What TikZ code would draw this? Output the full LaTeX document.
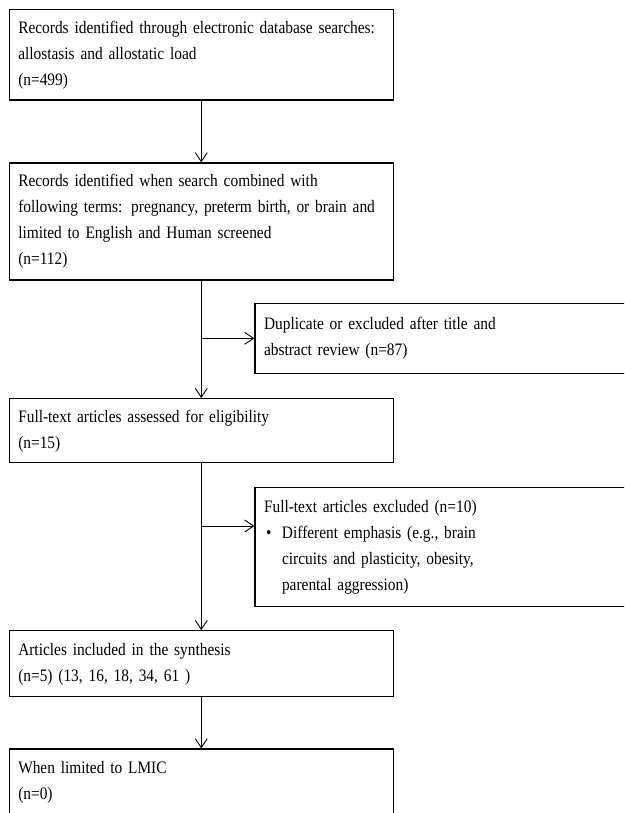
\documentclass[tikz,border=0pt]{standalone}
\usepackage{fontspec}
\setmainfont{Liberation Serif}[FakeStretch=0.88]
\usetikzlibrary{arrows.meta}

\begin{document}
\begin{tikzpicture}[
                x=1pt, y=-1pt,
                box/.style={draw=black, line width=1.2pt, text width=366pt, inner xsep=9pt,
                    inner ysep=0pt, align=left, font=\fontsize{17.5}{26}\selectfont},
                arr/.style={line width=0.9pt, -{Straight Barb[length=9pt, width=12pt]}} ]

            \clip (0,0) rectangle (624,813);

            \node[box, minimum height=90.5pt] (rec) at (201.25,54.75)
                {\mbox{Records identified through electronic database searches:}\\
                 allostasis and allostatic load\\ (n=499)};
            \node[box, minimum height=117pt] (comb) at (201.25,221.5)
                {Records identified when search combined with\\
                 \mbox{following terms: pregnancy, preterm birth, or brain and}\\
                 limited to English and Human screened\\ (n=112)};
            \node[box, minimum height=64pt] (full) at (201.25,430.7)
                {Full-text articles assessed for eligibility\\ (n=15)};
            \node[box, minimum height=66pt] (incl) at (201.25,663.8)
                {Articles included in the synthesis\\ (n=5) (13, 16, 18, 34, 61 )};
            \node[box, minimum height=66pt] (lmic) at (201.25,782)
                {When limited to LMIC\\ (n=0)};

            \node[box, minimum height=70pt] (dup) at (447,338.3)
                {Duplicate or excluded after title and\\ abstract review (n=87)};
            \node[box, minimum height=119pt] (excl) at (447,547.2)
                {Full-text articles excluded (n=10)\\
                 \makebox[18pt][l]{\hspace{2pt}\textbullet}Different emphasis (e.g., brain\\
                 \hspace*{18pt}circuits and plasticity, obesity,\\
                 \hspace*{18pt}parental aggression)};

            \coordinate (j1) at (comb.south |- dup.west);
            \coordinate (j2) at (201.25,526);

            \draw[arr] (rec) -- (comb);
            \draw[arr] (comb) -- (full);
            \draw[arr] (full) -- (incl);
            \draw[arr] (incl) -- (lmic);
            \draw[arr] (j1) -- (dup);
            \draw[arr] (j2) -- (j2 -| excl.west);

        \end{tikzpicture}
\end{document}
